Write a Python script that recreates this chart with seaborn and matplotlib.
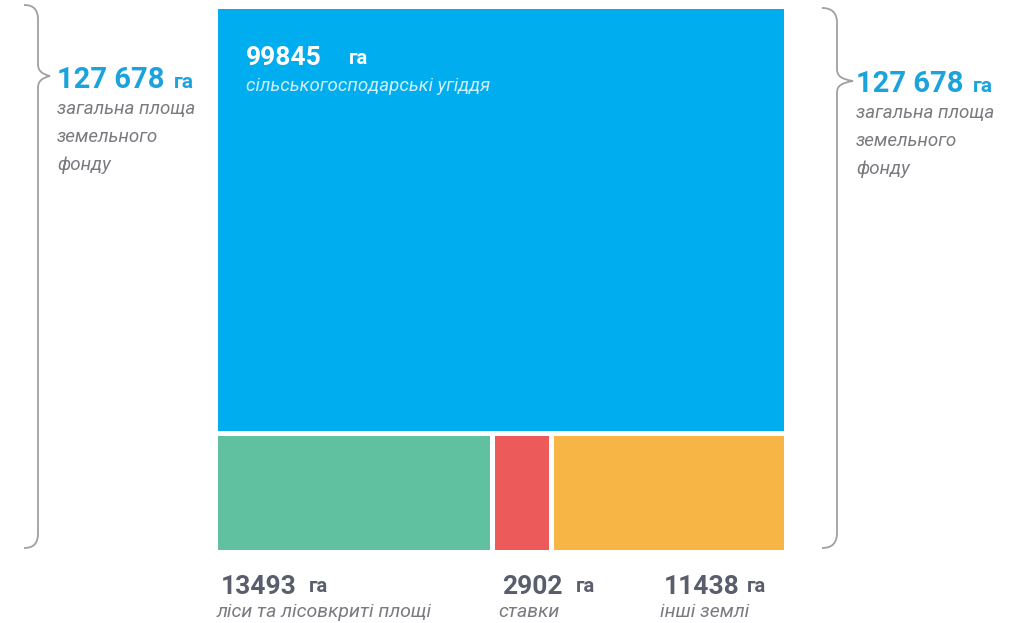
import numpy as np
import matplotlib.pyplot as plt
from matplotlib.path import Path
from matplotlib.patches import PathPatch
import seaborn as sns

# land fund structure, ha
categories = ["сільськогосподарські угіддя", "ліси та лісовкриті площі", "ставки", "інші землі"]
areas = [99845, 13493, 2902, 11438]
area_labels = ["99845", "13493", "2902", "11438"]
total_label = "127 678"
total_caption = ["загальна площа", "земельного", "фонду"]
unit = "га"
colors = ["#00aeef", "#5fc1a0", "#ec5a5a", "#f7b545"]

sns.set_style("white")
plt.rcParams["font.family"] = ["Roboto", "DejaVu Sans"]

W, H = 1025, 623
fig = plt.figure(figsize=(W / 100, H / 100), dpi=100)

# treemap: first category on top band, rest split the bottom band
total = sum(areas)
rest = areas[1:]
rest_total = sum(rest)
ax = fig.add_axes([215 / W, 71 / H, 571 / W, 546 / H])
ax.set_xlim(0, 1)
ax.set_ylim(0, total)
ax.bar(0, areas[0], width=1, bottom=rest_total, align="edge",
       color=colors[0], edgecolor="white", linewidth=3.6)
lefts = np.cumsum([0] + rest[:-1]) / rest_total
widths = np.array(rest) / rest_total
ax.bar(lefts, rest_total, width=widths, bottom=0, align="edge",
       color=colors[1:], edgecolor="white", linewidth=3.6)
ax.axis("off")

# overlay in pixel coords for text and braces
ov = fig.add_axes([0, 0, 1, 1], zorder=5)
ov.set_xlim(0, W)
ov.set_ylim(H, 0)
ov.axis("off")
ov.patch.set_alpha(0)

blue = "#1aa3dc"
grey = "#7a7a80"
dark = "#5a5e6c"


def brace(x0, xv, xt, ytop, ytip, ybot):
    verts = [(x0, ytop), (x0 + 10, ytop), (xv, ytop + 5), (xv, ytop + 15),
             (xv, ytip - 12),
             (xv, ytip - 5), (xv + 4, ytip - 2), (xt, ytip),
             (xv + 4, ytip + 2), (xv, ytip + 5), (xv, ytip + 12),
             (xv, ybot - 15),
             (xv, ybot - 5), (x0 + 10, ybot), (x0, ybot)]
    codes = [Path.MOVETO, Path.CURVE4, Path.CURVE4, Path.CURVE4,
             Path.LINETO,
             Path.CURVE4, Path.CURVE4, Path.CURVE4,
             Path.CURVE4, Path.CURVE4, Path.CURVE4,
             Path.LINETO,
             Path.CURVE4, Path.CURVE4, Path.CURVE4]
    ov.add_patch(PathPatch(Path(verts, codes), fill=False, edgecolor="#a0a0a0", lw=1.3))


brace(24, 38, 50, 5, 76, 548)
brace(822, 837, 853, 8, 81, 548)


def total_block(x, ybase, yfirst):
    ov.text(x, ybase, total_label, color=blue, fontsize=21, fontweight="bold",
            ha="left", va="baseline")
    ov.text(x + 117, ybase, unit, color=blue, fontsize=15, fontweight="bold",
            ha="left", va="baseline")
    for i, line in enumerate(total_caption):
        ov.text(x, yfirst + i * 28, line, color=grey, fontsize=13.5, style="italic",
                ha="left", va="center")


total_block(57, 88, 109)
total_block(856, 92, 113)

# label inside the big block
ov.text(246, 58, area_labels[0], color="white", fontsize=19, fontweight="bold",
        ha="left", va="center")
ov.text(349, 58, unit, color="white", fontsize=14.5, fontweight="bold",
        ha="left", va="center")
ov.text(246, 86, categories[0], color="#cdeefc", fontsize=13.5, style="italic",
        ha="left", va="center")

# labels under the bottom blocks
bottom_pos = [(221, 309), (502, 576), (664, 747)]
for (xn, xu), num, cat in zip(bottom_pos, area_labels[1:], categories[1:]):
    ov.text(xn, 587, num, color=dark, fontsize=19, fontweight="bold",
            ha="left", va="center")
    ov.text(xu, 587, unit, color=dark, fontsize=14.5, fontweight="bold",
            ha="left", va="center")
    ov.text(xn - 4, 612, cat, color=grey, fontsize=14, style="italic",
            ha="left", va="center")

fig.savefig("out.png", dpi=100)
